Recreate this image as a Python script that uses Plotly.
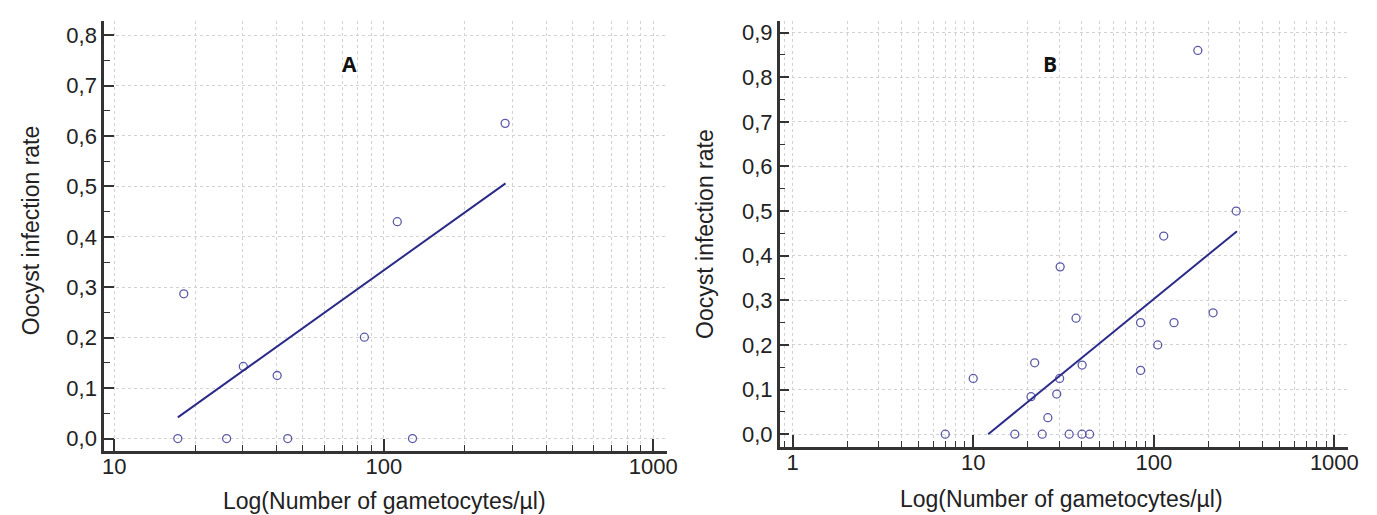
import plotly.graph_objects as go

# ---------------- data ----------------
# Panel A
a_gam = [18.1, 17.2, 26.1, 30.1, 40.2, 44.0, 84.7, 127.8, 282.0, 112.2]
a_rate = [0.287, 0.0, 0.0, 0.143, 0.125, 0.0, 0.201, 0.0, 0.625, 0.43]
a_fit_x = [17.2, 283.0]
a_fit_y = [0.042, 0.506]

# Panel B
b_gam = [7.0, 10.0, 17.0, 24.1, 34.0, 40.0, 44.1, 20.9, 21.9, 25.9, 29.0, 30.1,
         37.1, 40.1, 84.5, 84.5, 105.2, 129.4, 213.0, 30.3, 113.5, 286.0, 175.4]
b_rate = [0.0, 0.125, 0.0, 0.0, 0.0, 0.0, 0.0, 0.084, 0.16, 0.037, 0.09, 0.125,
          0.26, 0.155, 0.25, 0.143, 0.2, 0.25, 0.272, 0.375, 0.444, 0.5, 0.86]
b_fit_x = [12.1, 289.0]
b_fit_y = [0.0, 0.455]

a_xticks = [10, 100, 1000]
b_xticks = [1, 10, 100, 1000]
a_yticks = [0.0, 0.1, 0.2, 0.3, 0.4, 0.5, 0.6, 0.7, 0.8]
b_yticks = [0.0, 0.1, 0.2, 0.3, 0.4, 0.5, 0.6, 0.7, 0.8, 0.9]

x_title = "Log(Number of gametocytes/µl)"
y_title = "Oocyst infection rate"

# ---------------- styles ----------------
W, H = 1377, 515
mk_color = "#5a5aa8"
ln_color = "#2b2b8a"
axis_color = "#333333"
grid_color = "#d2d2d2"
font_fam = "Liberation Sans, Arial, sans-serif"
tick_size = 22
title_size = 23

fig = go.Figure()

marker = dict(symbol="circle-open", size=8, color=mk_color, line=dict(width=1.3, color=mk_color))

fig.add_trace(go.Scatter(x=a_gam, y=a_rate, mode="markers", marker=marker,
                         xaxis="x", yaxis="y", showlegend=False))
fig.add_trace(go.Scatter(x=a_fit_x, y=a_fit_y, mode="lines", line=dict(color=ln_color, width=2),
                         xaxis="x", yaxis="y", showlegend=False))
fig.add_trace(go.Scatter(x=b_gam, y=b_rate, mode="markers", marker=marker,
                         xaxis="x2", yaxis="y2", showlegend=False))
fig.add_trace(go.Scatter(x=b_fit_x, y=b_fit_y, mode="lines", line=dict(color=ln_color, width=2),
                         xaxis="x2", yaxis="y2", showlegend=False))


def xax(domain, rng, ticks, anchor):
    return dict(
        domain=domain, type="log", range=rng, anchor=anchor,
        tickvals=ticks, ticktext=[str(t) for t in ticks],
        ticks="inside", ticklen=12, tickwidth=1.5, tickcolor=axis_color,
        showline=True, linecolor=axis_color, linewidth=2.5,
        showgrid=True, gridcolor=grid_color, griddash="dot", gridwidth=1,
        minor=dict(dtick="D1", ticks="inside", ticklen=6, tickwidth=1.2, tickcolor=axis_color,
                   showgrid=True, gridcolor=grid_color, griddash="dot", gridwidth=1),
        tickfont=dict(size=tick_size, color="#222", family=font_fam),
        zeroline=False, mirror=False, fixedrange=True,
        ticklabelstandoff=-6,
    )


def yax(domain, rng, ticks, anchor):
    return dict(
        domain=domain, range=rng, anchor=anchor,
        tickvals=ticks, ticktext=[f"{t:.1f}".replace(".", ",") for t in ticks],
        ticks="inside", ticklen=10, tickwidth=1.5, tickcolor=axis_color,
        showline=True, linecolor=axis_color, linewidth=2.5,
        showgrid=True, gridcolor=grid_color, griddash="dot", gridwidth=1,
        minor=dict(dtick=0.05, ticks="inside", ticklen=6, tickwidth=1.2, tickcolor=axis_color,
                   showgrid=False),
        tickfont=dict(size=tick_size, color="#222", family=font_fam),
        zeroline=False, fixedrange=True,
    )


def title_ann(text, x, y, angle=0):
    return dict(text=text, x=x / W, y=1 - y / H, xref="paper", yref="paper", showarrow=False,
                xanchor="center", yanchor="middle", textangle=angle,
                font=dict(size=title_size, family=font_fam, color="#222"))


fig.update_layout(
    width=W, height=H,
    margin=dict(l=0, r=0, t=0, b=0),
    paper_bgcolor="white", plot_bgcolor="white",
    font=dict(family=font_fam, color="#222"),
    xaxis=xax([95 / W, 663 / W], [0.962, 3.05], a_xticks, "y"),
    yaxis=yax([1 - 443 / H, 1 - 12 / H], [-0.025, 0.828], a_yticks, "x"),
    xaxis2=xax([777 / W, 1351 / W], [-0.072, 3.077], b_xticks, "y2"),
    yaxis2=yax([1 - 439 / H, 1 - 12 / H], [-0.029, 0.926], b_yticks, "x2"),
    annotations=[
        dict(text="<b>A</b>", x=1.871, y=0.743, xref="x", yref="y", showarrow=False,
             font=dict(size=21, family="Open Sans, sans-serif", color="#111")),
        dict(text="<b>B</b>", x=1.4257, y=0.83, xref="x2", yref="y2", showarrow=False,
             font=dict(size=21, family="Open Sans, sans-serif", color="#111")),
        title_ann(x_title, 378, 493),
        title_ann(x_title, 1062, 491),
        title_ann(y_title, 21, 222, -90),
        title_ann(y_title, 701, 225, -90),
    ],
)

fig.write_html("out.html")
